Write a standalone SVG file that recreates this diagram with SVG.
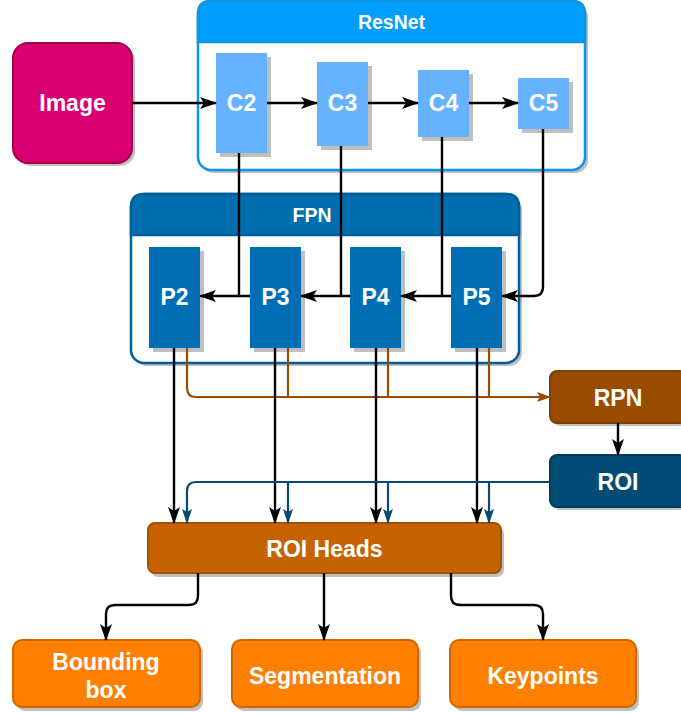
<svg xmlns="http://www.w3.org/2000/svg" width="681" height="713" viewBox="0 0 681 713">
<defs>
<style>
text{font-family:"Liberation Sans",Arial,sans-serif;font-weight:bold;fill:#fff;text-anchor:middle}
.lbl{font-size:23px}
.ttl{font-size:19.5px}
.sh{fill:#bfbfbf}
.blk{fill:none;stroke:#000;stroke-width:2.4}
.brn{fill:none;stroke:#994c00;stroke-width:2.2}
.blu{fill:none;stroke:#0b4a70;stroke-width:2.2}
</style>
<marker id="ab" viewBox="0 0 17 12" refX="16" refY="6" markerWidth="17" markerHeight="12" markerUnits="userSpaceOnUse" orient="auto"><path d="M0,0 L17,6 L0,12 L4,6 z" fill="#000"/></marker>
<marker id="an" viewBox="0 0 14 10" refX="13" refY="5" markerWidth="14" markerHeight="10" markerUnits="userSpaceOnUse" orient="auto"><path d="M0,0 L14,5 L0,10 L3,5 z" fill="#994c00"/></marker>
<marker id="au" viewBox="0 0 15 10" refX="14" refY="5" markerWidth="15" markerHeight="10" markerUnits="userSpaceOnUse" orient="auto"><path d="M0,0 L15,5 L0,10 L3,5 z" fill="#0b4a70"/></marker>
</defs>

<g id="image">
<rect class="sh" x="16" y="46" width="119" height="120" rx="15"/>
<rect x="13" y="43" width="119" height="120" rx="15" fill="#d80073" stroke="#a50040" stroke-width="2"/>
<text class="lbl" x="72.5" y="111">Image</text>
</g>

<g id="resnet">
<rect class="sh" x="201" y="4" width="387" height="169" rx="13"/>
<rect x="198" y="1" width="387" height="169" rx="13" fill="#fff" stroke="#0a95e6" stroke-width="2.5"/>
<path d="M198,42 V14 Q198,1 211,1 H572 Q585,1 585,14 V42 Z" fill="#009fff" stroke="#0a95e6" stroke-width="2.5"/>
<text class="ttl" x="391.5" y="29">ResNet</text>
</g>
<g id="c2"><rect class="sh" x="220" y="57" width="51" height="100"/><rect x="216" y="53" width="51" height="100" fill="#66b2ff"/><text class="lbl" x="241.5" y="111">C2</text></g>
<g id="c3"><rect class="sh" x="321" y="66" width="51" height="84"/><rect x="317" y="62" width="51" height="84" fill="#66b2ff"/><text class="lbl" x="342.5" y="111">C3</text></g>
<g id="c4"><rect class="sh" x="422" y="74" width="51" height="67"/><rect x="418" y="70" width="51" height="67" fill="#66b2ff"/><text class="lbl" x="443.5" y="111">C4</text></g>
<g id="c5"><rect class="sh" x="522" y="82" width="51" height="51"/><rect x="518" y="78" width="51" height="51" fill="#66b2ff"/><text class="lbl" x="543.5" y="111">C5</text></g>

<g id="fpn">
<rect class="sh" x="134" y="197" width="388" height="169" rx="13"/>
<rect x="131" y="194" width="388" height="169" rx="13" fill="#fff" stroke="#005f99" stroke-width="2.5"/>
<path d="M131,235 V207 Q131,194 144,194 H506 Q519,194 519,207 V235 Z" fill="#006eaf" stroke="#005f99" stroke-width="2.5"/>
<text class="ttl" x="312" y="222">FPN</text>
</g>
<g id="p2"><rect class="sh" x="153" y="251" width="51" height="101"/><rect x="149" y="247" width="51" height="101" fill="#006eb5"/><text class="lbl" x="174.5" y="305">P2</text></g>
<g id="p3"><rect class="sh" x="254" y="251" width="51" height="101"/><rect x="250" y="247" width="51" height="101" fill="#006eb5"/><text class="lbl" x="275.5" y="305">P3</text></g>
<g id="p4"><rect class="sh" x="354" y="251" width="51" height="101"/><rect x="350" y="247" width="51" height="101" fill="#006eb5"/><text class="lbl" x="375.5" y="305">P4</text></g>
<g id="p5"><rect class="sh" x="455" y="251" width="51" height="101"/><rect x="451" y="247" width="51" height="101" fill="#006eb5"/><text class="lbl" x="476.5" y="305">P5</text></g>

<g id="rpn"><rect class="sh" x="553" y="374" width="136" height="52" rx="7"/><rect x="550" y="371" width="136" height="52" rx="7" fill="#994c00" stroke="#7f3f00" stroke-width="2"/><text class="lbl" x="618" y="406">RPN</text></g>
<g id="roi"><rect class="sh" x="553" y="458" width="136" height="52" rx="7"/><rect x="550" y="455" width="136" height="52" rx="7" fill="#004c75" stroke="#003b5c" stroke-width="2"/><text class="lbl" x="618" y="490">ROI</text></g>

<g id="roiheads"><rect class="sh" x="151" y="527" width="353" height="50" rx="7"/><rect x="148" y="523" width="353" height="50" rx="7" fill="#c66300" stroke="#a35200" stroke-width="2"/><text class="lbl" x="324.5" y="557">ROI Heads</text></g>

<g id="bbox"><rect class="sh" x="16" y="644" width="187" height="67" rx="9"/><rect x="13" y="640" width="187" height="67" rx="9" fill="#ff8000" stroke="#cc6600" stroke-width="2"/><text class="lbl" x="106" y="670">Bounding</text><text class="lbl" x="106" y="698">box</text></g>
<g id="seg"><rect class="sh" x="235" y="644" width="186" height="67" rx="9"/><rect x="232" y="640" width="186" height="67" rx="9" fill="#ff8000" stroke="#cc6600" stroke-width="2"/><text class="lbl" x="325" y="684">Segmentation</text></g>
<g id="kp"><rect class="sh" x="453" y="644" width="186" height="67" rx="9"/><rect x="450" y="640" width="186" height="67" rx="9" fill="#ff8000" stroke="#cc6600" stroke-width="2"/><text class="lbl" x="543" y="684">Keypoints</text></g>

<g id="connectors">
<path class="blk" d="M132,103 H216" marker-end="url(#ab)"/>
<path class="blk" d="M267,103 H317" marker-end="url(#ab)"/>
<path class="blk" d="M368,103 H418" marker-end="url(#ab)"/>
<path class="blk" d="M469,103 H518" marker-end="url(#ab)"/>

<path class="blk" d="M239,153 V296"/>
<path class="blk" d="M341,146 V296"/>
<path class="blk" d="M442,137 V296"/>
<path class="blk" d="M250,296 H200" marker-end="url(#ab)"/>
<path class="blk" d="M350,296 H301" marker-end="url(#ab)"/>
<path class="blk" d="M451,296 H401" marker-end="url(#ab)"/>
<path class="blk" d="M543,129 V287 Q543,296 534,296 H502" marker-end="url(#ab)"/>

<path class="brn" d="M187,348 V388 Q187,397 196,397 H550" marker-end="url(#an)"/>
<path class="brn" d="M288,348 V397"/>
<path class="brn" d="M388,348 V397"/>
<path class="brn" d="M489,348 V397"/>

<path class="blk" d="M174,348 V523" marker-end="url(#ab)"/>
<path class="blk" d="M275,348 V523" marker-end="url(#ab)"/>
<path class="blk" d="M376,348 V523" marker-end="url(#ab)"/>
<path class="blk" d="M477,348 V523" marker-end="url(#ab)"/>

<path class="blk" d="M618,423 V455" marker-end="url(#ab)"/>

<path class="blu" d="M550,482 H196 Q187,482 187,491 V523" marker-end="url(#au)"/>
<path class="blu" d="M288,482 V523" marker-end="url(#au)"/>
<path class="blu" d="M388,482 V523" marker-end="url(#au)"/>
<path class="blu" d="M489,482 V523" marker-end="url(#au)"/>

<path class="blk" d="M198,573 V596 Q198,605 189,605 H115 Q106,605 106,614 V640" marker-end="url(#ab)"/>
<path class="blk" d="M324,573 V640" marker-end="url(#ab)"/>
<path class="blk" d="M451,573 V596 Q451,605 460,605 H534 Q543,605 543,614 V640" marker-end="url(#ab)"/>
</g>
</svg>
